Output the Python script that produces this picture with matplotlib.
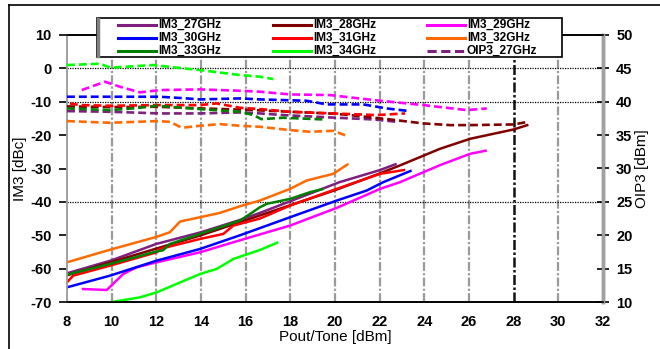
import matplotlib
matplotlib.use("Agg")
import matplotlib.pyplot as plt
from matplotlib.lines import Line2D

plt.rcParams['font.family'] = ['Liberation Sans', 'DejaVu Sans']

# ---- IM3 curves (left axis, dBc) ----
im3_27_x = [8, 10, 12, 14, 15.75, 16.64, 18, 20.2, 22, 22.76]
im3_27_y = [-61.4, -57.5, -52.6, -49.1, -45.4, -43.3, -39.8, -34.1, -30.5, -28.6]
im3_28_x = [8, 10, 12, 14, 16, 18, 20, 22, 22.9, 24.7, 26.05, 28, 28.66]
im3_28_y = [-62, -58, -54, -50, -45.5, -41, -36.5, -31.5, -29.1, -24.1, -21.1, -18.3, -16.9]
im3_29_x = [8.66, 9.78, 10.52, 11.12, 12.02, 13.96, 15.75, 17.99, 20.08, 22.02, 22.91, 24.7, 26.05, 26.8]
im3_29_y = [-66.1, -66.4, -61.6, -59.6, -58.1, -55.1, -51.5, -47.1, -41.8, -36.1, -34.1, -29.0, -25.6, -24.6]
im3_30_x = [8, 9.93, 12.02, 13.96, 15.75, 17.99, 20.08, 21.42, 22.16, 23.43]
im3_30_y = [-65.6, -62.1, -57.6, -54.1, -50.0, -44.6, -39.6, -36.6, -34.1, -30.6]
im3_31_x = [8, 8.28, 9.93, 12.02, 12.16, 13.96, 15.0, 15.45, 16.64, 17.99, 20.08, 22.02, 23.14]
im3_31_y = [-64.1, -62.1, -59.1, -55.1, -54.1, -51.1, -49.6, -47.1, -45.0, -41.1, -36.1, -31.6, -30.4]
im3_32_x = [8, 10, 12, 12.61, 13.06, 13.96, 14.85, 15.75, 16.64, 17.99, 18.73, 19.92, 20.6]
im3_32_y = [-58.1, -54.2, -50.5, -49.1, -45.9, -44.6, -43.3, -41.3, -39.6, -36.1, -33.6, -31.6, -28.6]
im3_33_x = [8, 9.93, 11.87, 12.3, 12.61, 13.96, 15.75, 16.2, 16.64, 16.94, 17.99, 18.88, 19.48]
im3_33_y = [-61.8, -58.6, -55.1, -54.5, -52.6, -49.6, -45.6, -43.6, -41.6, -40.6, -39.1, -37.1, -36.1]
im3_34_x = [9.93, 11.27, 12.02, 13.96, 14.7, 15.45, 16.64, 17.46]
im3_34_y = [-70.1, -68.6, -67.1, -61.6, -60.1, -57.1, -54.4, -52.1]

# ---- OIP3 curves (right axis, dBm) ----
oip3_27_x = [8, 9.93, 12.16, 13.96, 15.75, 16.64, 17.69, 19.78, 21.72, 22.76]
oip3_27_y = [38.6, 38.5, 38.25, 38.25, 38.4, 38.25, 38.0, 37.65, 37.35, 37.0]
oip3_28_x = [8, 10, 12, 14, 16, 18, 20, 20.67, 22.46, 23.96, 25.15, 26.05, 27.99, 28.66]
oip3_28_y = [39.3, 39.2, 39.25, 39.0, 38.8, 38.5, 38.2, 38.0, 37.35, 36.75, 36.5, 36.5, 36.6, 37.0]
oip3_29_x = [8.66, 9.7, 10.37, 11.27, 12.16, 13.96, 15.75, 16.64, 17.99, 19.78, 20.67, 22.02, 23.96, 25.9, 26.8]
oip3_29_y = [41.75, 43.0, 42.25, 41.4, 41.75, 41.85, 41.65, 41.5, 41.1, 41.0, 40.65, 40.15, 39.5, 38.75, 39.0]
oip3_30_x = [8, 12.16, 13.36, 13.96, 15.75, 16.64, 18.73, 19.63, 21.27, 22.31, 23.2]
oip3_30_y = [40.75, 40.75, 40.5, 40.35, 40.5, 40.35, 40.15, 39.6, 39.6, 39.0, 38.65]
oip3_31_x = [8.13, 8.58, 9.93, 12.16, 13.96, 14.7, 15.75, 16.64, 17.99, 19.92, 21.87, 23.14]
oip3_31_y = [39.75, 39.5, 39.4, 39.5, 39.5, 39.75, 39.1, 38.9, 38.5, 38.25, 38.0, 38.25]
oip3_32_x = [8, 9.93, 12.02, 12.61, 13.14, 13.96, 14.85, 15.75, 16.64, 17.99, 18.88, 19.92, 20.52]
oip3_32_y = [37.1, 36.85, 37.1, 37.0, 36.1, 36.4, 36.65, 36.4, 36.25, 35.75, 35.5, 35.65, 34.9]
oip3_33_x = [8, 9.93, 10.97, 12.02, 13.96, 15.75, 16.35, 16.7, 17.69, 19.5]
oip3_33_y = [39.0, 38.75, 39.0, 39.4, 38.9, 38.5, 38.0, 37.4, 37.6, 37.35]
oip3_34_x = [8, 9.48, 9.93, 11.87, 12.91, 13.96, 15.75, 16.64, 17.24]
oip3_34_y = [45.5, 45.7, 45.1, 45.5, 45.1, 44.75, 44.0, 43.75, 43.4]

freqs = ['27GHz', '28GHz', '29GHz', '30GHz', '31GHz', '32GHz', '33GHz', '34GHz']
colors = ['#7F1F7F', '#800000', '#FF00FF', '#0000FF', '#FF0000', '#FF6A00', '#008000', '#00FF00']
im3_sets = [(im3_27_x, im3_27_y), (im3_28_x, im3_28_y), (im3_29_x, im3_29_y), (im3_30_x, im3_30_y),
            (im3_31_x, im3_31_y), (im3_32_x, im3_32_y), (im3_33_x, im3_33_y), (im3_34_x, im3_34_y)]
oip3_sets = [(oip3_27_x, oip3_27_y), (oip3_28_x, oip3_28_y), (oip3_29_x, oip3_29_y), (oip3_30_x, oip3_30_y),
             (oip3_31_x, oip3_31_y), (oip3_32_x, oip3_32_y), (oip3_33_x, oip3_33_y), (oip3_34_x, oip3_34_y)]

x_ticks = [8, 10, 12, 14, 16, 18, 20, 22, 24, 26, 28, 30, 32]
im3_ticks = [10, 0, -10, -20, -30, -40, -50, -60, -70]
oip3_ticks = [50, 45, 40, 35, 30, 25, 20, 15, 10]

W, H = 660, 349
fig = plt.figure(figsize=(W / 100, H / 100), dpi=100)
ax = fig.add_axes([67 / W, 1 - 302 / H, (603 - 67) / W, (302 - 35) / H])
ax2 = ax.twinx()

ax.set_xlim(8, 32)
ax.set_ylim(-70, 10)
ax2.set_ylim(10, 50)

# vertical grid
for xv in x_ticks[1:-1]:
    if xv == 28:
        ax.axvline(xv, color='#111111', lw=1.8, ls=(0, (4, 1, 1, 1)), zorder=1)
    else:
        ax.axvline(xv, color='#9a9a9a', lw=1.6, ls=(0, (4, 1, 1, 1)), zorder=1)
# horizontal dotted lines
for yv in [0, -10, -40]:
    ax.axhline(yv, color='black', lw=0.9, ls=(0, (1, 1)), zorder=1)

dash = (0, (3, 1.5))
for (xs, ys), c in zip(im3_sets, colors):
    ax.plot(xs, ys, color=c, lw=1.8, zorder=3, solid_capstyle='butt')
for (xs, ys), c in zip(oip3_sets, colors):
    ax2.plot(xs, ys, color=c, lw=1.9, ls=dash, zorder=3)

# spines
for a in (ax, ax2):
    a.spines['top'].set_color('black')
    a.spines['top'].set_linewidth(1.2)
    a.spines['bottom'].set_color('black')
    a.spines['bottom'].set_linewidth(1.2)
    a.spines['left'].set_color('#a0a0a0')
    a.spines['left'].set_linewidth(1.2)
    a.spines['right'].set_color('#a0a0a0')
    a.spines['right'].set_linewidth(2.5)

ax.set_xticks(x_ticks)
ax.set_yticks(im3_ticks)
ax2.set_yticks(oip3_ticks)
tick_font = dict(fontsize=10.5, fontweight='bold')
ax.set_xticklabels([str(v) for v in x_ticks], **tick_font)
ax.set_yticklabels([str(v) for v in im3_ticks], **tick_font)
ax2.set_yticklabels([str(v) for v in oip3_ticks], **tick_font)
ax.tick_params(axis='x', length=0, pad=9)
ax.tick_params(axis='y', direction='out', length=5.5, width=1.2, color='black', pad=5.5)
ax2.tick_params(axis='y', direction='inout', length=9, width=1.2, color='black', pad=5)

ax.set_xlabel('Pout/Tone [dBm]', fontsize=11, labelpad=1)
ax.set_ylabel('IM3 [dBc]', fontsize=11, labelpad=2)
ax2.set_ylabel('OIP3 [dBm]', fontsize=11, labelpad=2)

# legend box drawn in figure pixels
lx0, ly0, lx1, ly1 = 97, 18, 562, 57
fig.add_artist(plt.Rectangle((lx0 / W, 1 - ly1 / H), (lx1 - lx0) / W, (ly1 - ly0) / H,
                             transform=fig.transFigure, facecolor='white', edgecolor='black',
                             lw=1.2, zorder=10))
fig.add_artist(Line2D([(lx0 + 1) / W] * 2, [1 - (ly0 + 1) / H, 1 - (ly1 - 1) / H],
                      transform=fig.transFigure, color='#808080', lw=2.5, zorder=11))
labels = ['IM3_' + f for f in freqs] + ['OIP3_27GHz']
styles = ['-'] * 8 + [dash]
leg_colors = colors + [colors[0]]
col_x = [118, 273, 427]
row_y = [25, 38, 51]
for i, (lab, c, st) in enumerate(zip(labels, leg_colors, styles)):
    r, k = divmod(i, 3)
    xh, yh = col_x[k], row_y[r]
    fig.add_artist(Line2D([xh / W, (xh + 38) / W], [1 - yh / H] * 2, transform=fig.transFigure,
                          color=c, lw=2.2, ls=st, zorder=12))
    fig.text((xh + 40) / W, 1 - yh / H, lab, fontsize=8.6, fontweight='bold',
             va='center', ha='left', zorder=12)

# outer frame (top and left edges)
fig.add_artist(Line2D([9 / W, 1], [1 - 5 / H] * 2, transform=fig.transFigure, color='black', lw=1.2))
fig.add_artist(Line2D([9 / W] * 2, [0, 1 - 5 / H], transform=fig.transFigure, color='black', lw=1.2))

fig.savefig('out.png', dpi=100)
